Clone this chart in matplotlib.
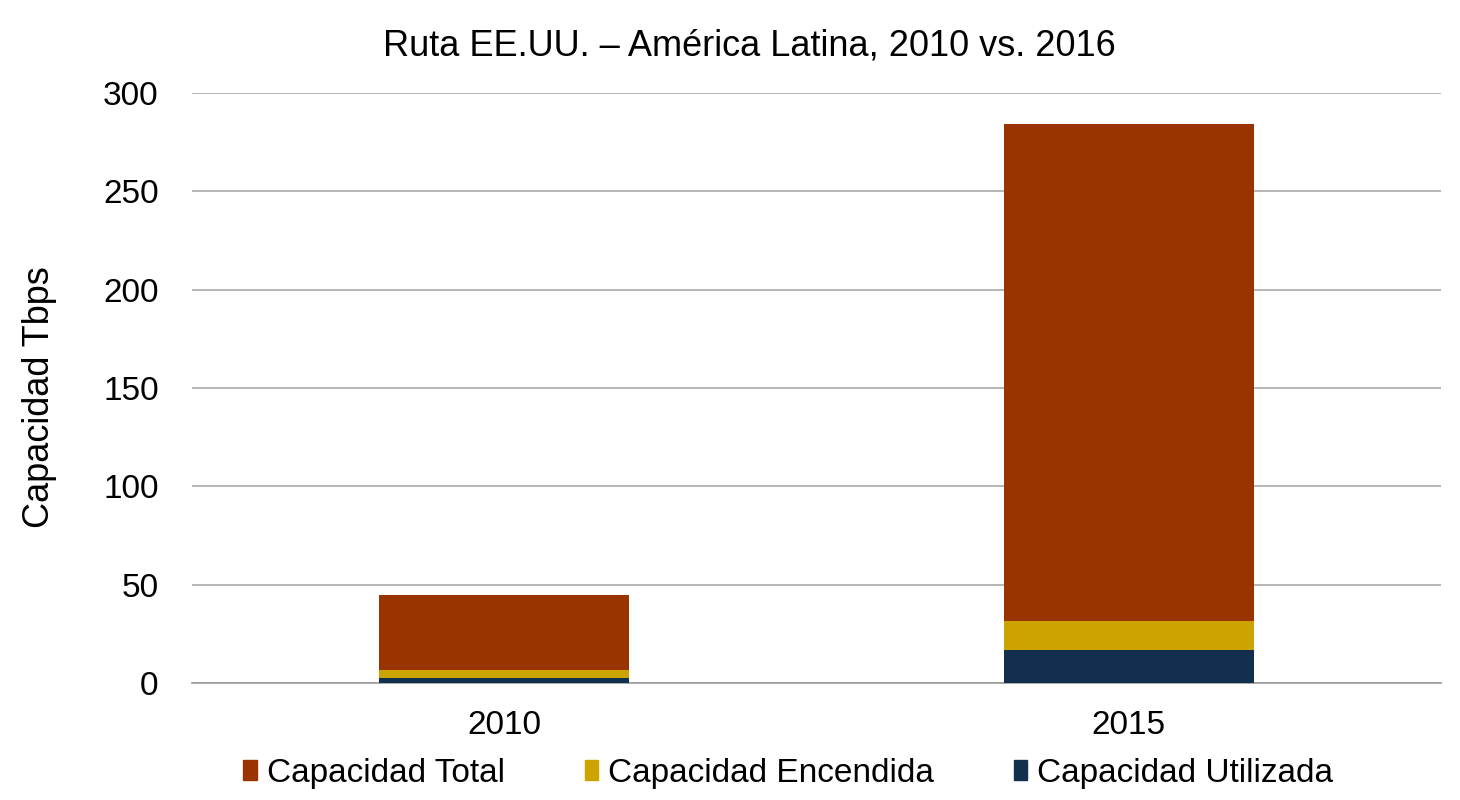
import matplotlib.pyplot as plt
from matplotlib.patches import Patch

years = ['2010', '2015']
total = [44.7, 284]
encendida = [6.6, 31.5]
utilizada = [2.7, 17.1]

c_total = '#993300'
c_enc = '#CCA300'
c_uti = '#12304E'

plt.rcParams['font.family'] = ['Liberation Sans', 'DejaVu Sans']

fig = plt.figure(figsize=(14.6, 8), dpi=100)
ax = fig.add_axes([0.1315, 0.146, 0.8555, 0.738])

x = range(len(years))
ax.bar(x, total, width=0.4, color=c_total, zorder=3)
ax.bar(x, encendida, width=0.4, color=c_enc, zorder=4)
ax.bar(x, utilizada, width=0.4, color=c_uti, zorder=5)

ax.set_xlim(-0.5, 1.5)
ax.set_ylim(0, 300)
ax.set_yticks([0, 50, 100, 150, 200, 250, 300])
ax.set_xticks(list(x))
ax.set_xticklabels(years)
ax.tick_params(axis='both', length=0, labelsize=24)
ax.tick_params(axis='x', pad=19)
ax.tick_params(axis='y', pad=24)
ax.grid(axis='y', color='#aaaaaa', linewidth=1.2, zorder=0)
for s in ['top', 'right', 'left']:
    ax.spines[s].set_visible(False)
ax.spines['bottom'].set_color('#999999')
ax.spines['bottom'].set_linewidth(1.2)

ax.set_ylabel('Capacidad Tbps', fontsize=26)
ax.yaxis.set_label_coords(-0.108, 0.485)
ax.set_title('Ruta EE.UU. – América Latina, 2010 vs. 2016', fontsize=26, pad=27, x=0.446)

handles = [Patch(color=c_total), Patch(color=c_enc), Patch(color=c_uti)]
labels = ['Capacidad Total', 'Capacidad Encendida', 'Capacidad Utilizada']
fig.legend(handles, labels, loc='center', bbox_to_anchor=(0.54, 0.033), ncol=3,
           frameon=False, fontsize=24, handlelength=0.4, handleheight=0.55,
           handletextpad=0.3, columnspacing=2.4)

fig.savefig('out.png', dpi=100)
